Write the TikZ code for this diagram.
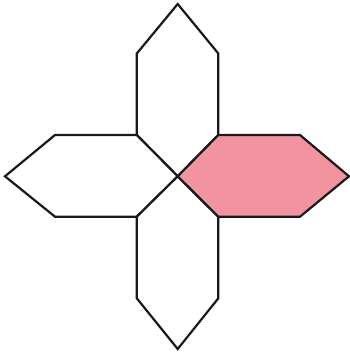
\documentclass[tikz,border=0pt]{standalone}
\usepackage{xcolor}
\usepackage{tikz}
\usetikzlibrary{calc}
\definecolor{petal}{RGB}{242,148,160}
\tikzset{
  hexa/.style={draw=black!90, line width=2.2pt, line join=miter, fill=white},
  hexon/.style={hexa, fill=petal},
}

\begin{document}
\begin{tikzpicture}[x=1pt, y=-1pt]
  \useasboundingbox (0,0) rectangle (350,353);
  \coordinate (c) at (177.7,176.3);
  % top
  \draw[hexa] (c) -- (136.8,135) -- (136.8,53.5) -- (177.7,4) -- (218.3,53.5) -- (218.3,135) -- cycle;
  % left
  \draw[hexa] (c) -- (136.8,135) -- (55,135) -- (5,176.3) -- (55,216.7) -- (136.8,216.7) -- cycle;
  % bottom
  \draw[hexa] (c) -- (136.8,216.7) -- (136.8,298.3) -- (177.7,349) -- (218.3,298.3) -- (218.3,216.7) -- cycle;
  % right
  \draw[hexon] (c) -- (218.3,135) -- (300,135) -- (349,176.3) -- (300,216.7) -- (218.3,216.7) -- cycle;
\end{tikzpicture}
\end{document}
